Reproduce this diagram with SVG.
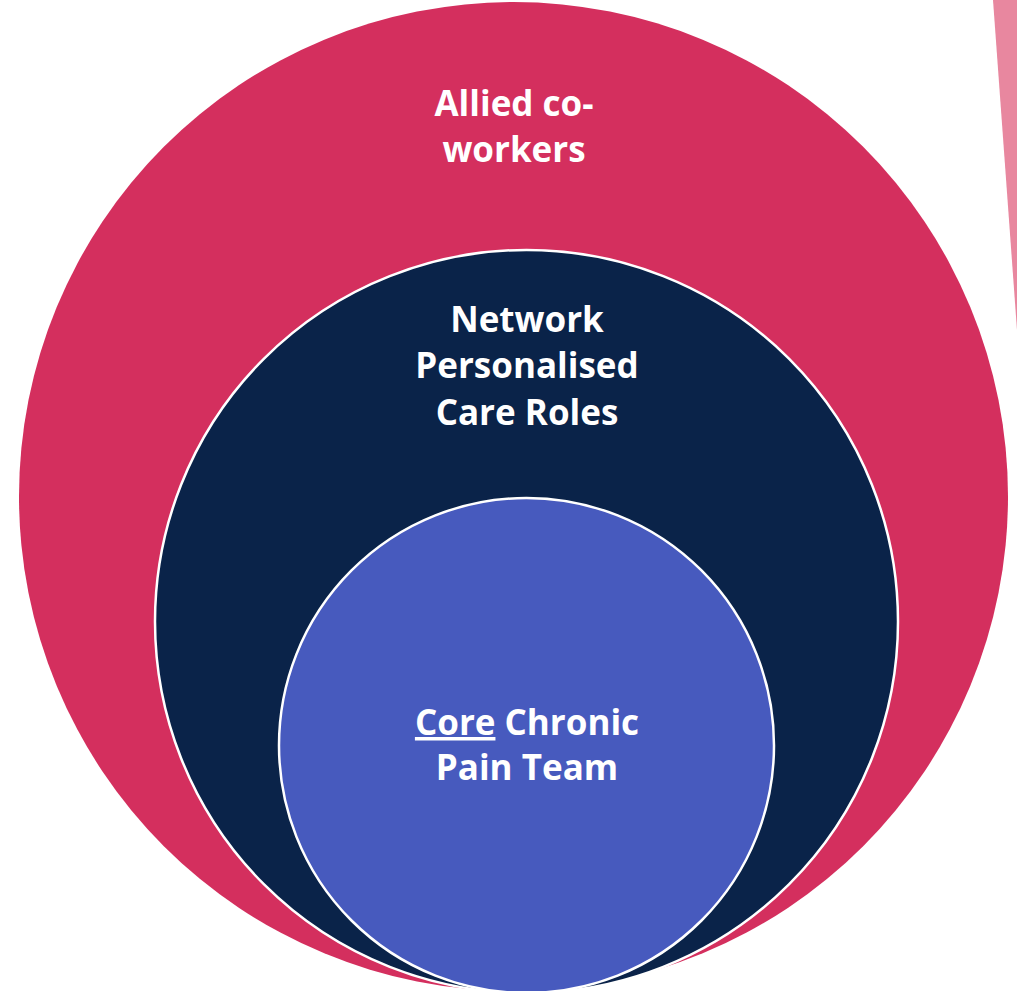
<svg xmlns="http://www.w3.org/2000/svg" width="1017" height="991" viewBox="0 0 1017 991">
  <style>
    .lbl { font-family: "Open Sans", "Liberation Sans", sans-serif; font-weight: 700; font-size: 35px; fill: #ffffff; text-anchor: middle; }
    .ring { stroke: #ffffff; stroke-width: 2.5; }
  </style>
  <rect width="1017" height="991" fill="#ffffff"/>
  <!-- decorative wedge at the top-right edge -->
  <polygon points="993,0 1017,0 1017,330" fill="#E8879F"/>
  <g id="allied">
    <circle cx="513.5" cy="496.5" r="494.5" fill="#D42F5E"/>
    <text class="lbl" x="514" y="116">Allied co-</text>
    <text class="lbl" x="514" y="162">workers</text>
  </g>
  <g id="network">
    <circle class="ring" cx="526.5" cy="621.5" r="371.5" fill="#0A2349"/>
    <text class="lbl" x="527" y="332">Network</text>
    <text class="lbl" x="527" y="378">Personalised</text>
    <text class="lbl" x="527" y="425">Care Roles</text>
  </g>
  <g id="core">
    <circle class="ring" cx="526.5" cy="745.5" r="247.5" fill="#475ABE"/>
    <text class="lbl" x="527" y="735"><tspan text-decoration="underline">Core</tspan> Chronic</text>
    <text class="lbl" x="527" y="780">Pain Team</text>
  </g>
</svg>
